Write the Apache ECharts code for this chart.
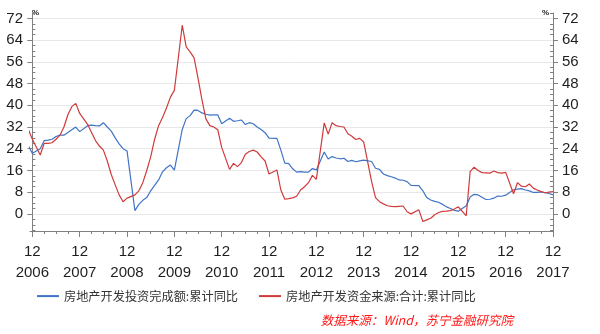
<!DOCTYPE html>
<html><head><meta charset="utf-8">
<script src="https://cdn.jsdelivr.net/npm/echarts@6/dist/echarts.min.js"></script>
<style>html,body{margin:0;padding:0;background:#fff}#c{width:600px;height:334px}</style>
</head><body><div id="c"></div>
<script>
// x position of a value = months since Dec 2006 (first value is Nov 2006 => -1)
const firstMonthOffset = -1;
const years = ['2006','2007','2008','2009','2010','2011','2012','2013','2014','2015','2016','2017'];
const seriesNames = ['房地产开发投资完成额:累计同比', '房地产开发资金来源:合计:累计同比'];
// Monthly values Nov 2006 .. Dec 2017 (January not published -> null)
const invest = [
  25, 22.3,
  null, 24, 27, 27.2, 27.5, 28.5, 29, 29, 30, 31, 32, 30.3,
  null, 32.5, 32.7, 32.5, 32.4, 33.6, 32, 30.5, 28, 25.8, 24, 23.2,
  null, 1.2, 3.5, 5, 6, 8.5, 10.5, 12.5, 15.5, 17, 18, 16.1,
  null, 31.1, 35.1, 36.2, 38.2, 38.1, 37.2, 36.7, 36.4, 36.5, 36.5, 33.2,
  null, 35.2, 34.1, 34.3, 34.6, 32.9, 33.6, 33.2, 32.0, 31.1, 29.9, 27.9,
  null, 27.8, 23.5, 18.7, 18.5, 16.6, 15.4, 15.6, 15.4, 15.4, 16.7, 16.2,
  null, 22.8, 20.2, 21.1, 20.6, 20.3, 20.5, 19.3, 19.7, 19.2, 19.5, 19.8,
  null, 19.3, 16.8, 16.4, 14.7, 14.1, 13.7, 13.2, 12.5, 12.4, 11.9, 10.5,
  null, 10.4, 8.5, 6.0, 5.1, 4.6, 4.3, 3.5, 2.6, 2.0, 1.3, 1.0,
  null, 3.0, 6.2, 7.2, 7.0, 6.1, 5.3, 5.4, 5.8, 6.6, 6.5, 6.9,
  null, 8.9, 9.1, 9.3, 8.8, 8.5, 7.9, 7.9, 8.1, 7.8, 7.5, 7.0
];
const funds = [
  31, 27.5,
  null, 21.7, 26, 26, 26.2, 27.5, 29, 32, 36.5, 39.5, 40.7, 37,
  null, 33, 30, 27, 25, 23.5, 19.5, 14.5, 10.7, 7, 4.5, 5.8,
  null, 7, 8.5, 11.5, 16, 21, 27.5, 32.5, 35.5, 39, 43, 45.5,
  null, 69.5, 61.5, 59.7, 57.5, 50, 42, 35, 32.5, 32, 31, 24.5,
  null, 16.4, 18.6, 17.4, 18.9, 22, 23, 23.5, 22.8, 21, 19.5, 14.7,
  null, 16.2, 8.8, 5.4, 5.6, 5.9, 6.5, 8.8, 10, 11.5, 14.2, 12.7,
  null, 33.5, 29.4, 33.6, 32.5, 32.2, 32, 29.5, 28.6, 27.4, 27.8, 26.5,
  null, 12, 6, 4.5, 3.7, 3, 2.8, 2.7, 2.8, 2.9, 0.8, 0,
  null, 1.5, -2.8, -2.2, -1.6, -0.3, 0.5, 0.9, 1, 1.2, 1.8, 2.6,
  null, -0.7, 15.6, 17.2, 16, 15.2, 15.1, 15, 15.8, 15.2, 15, 15.3,
  null, 7.4, 11.5, 10.2, 10, 11, 9.5, 8.8, 8.2, 7.8, 8, 8.2
];
const yTicks = [0, 8, 16, 24, 32, 40, 48, 56, 64, 72];
const yMin = -6.3, yMax = 74;

function toPoints(arr) {
  const out = [];
  arr.forEach((v, k) => { if (v !== null) out.push([k + firstMonthOffset, v]); });
  return out;
}
const yMinor = [];
for (let v = -6; v <= 74; v += 2) if (yTicks.indexOf(v) < 0) yMinor.push(v);
const xMajor = years.map((y, i) => i * 12);
const xMinor = [];
for (let m = 0; m <= 132; m += 3) xMinor.push(m);

const axisColor = '#808080';
const labelColor = '#1e1e1e';
const labelFont = 'Liberation Sans';

function yMain(pos, split) {
  return {
    type: 'value', position: pos, min: yMin, max: yMax, offset: 0,
    axisLine: { show: true, lineStyle: { color: axisColor, width: 1 } },
    axisTick: { show: true, inside: false, length: 5, customValues: yTicks, lineStyle: { color: axisColor } },
    axisLabel: { show: true, customValues: yTicks, margin: pos === 'left' ? 7 : 9, color: labelColor, fontSize: 15, fontFamily: labelFont },
    splitLine: { show: split, lineStyle: { color: '#e8e8e8', width: 1 } }
  };
}
function yMinorAxis(pos) {
  return {
    type: 'value', position: pos, min: yMin, max: yMax, offset: 0,
    axisLine: { show: false },
    axisTick: { show: true, inside: true, length: 3, customValues: yMinor, lineStyle: { color: axisColor } },
    axisLabel: { show: false },
    splitLine: { show: false }
  };
}

const chart = echarts.init(document.getElementById('c'), null, { renderer: 'canvas' });
chart.setOption({
  animation: false,
  backgroundColor: '#fff',
  grid: { left: 30, right: 47, top: 13, bottom: 103 },
  xAxis: [
    {
      type: 'value', min: -0.6, max: 132, position: 'bottom',
      axisLine: { show: true, onZero: false, lineStyle: { color: axisColor } },
      axisTick: { show: true, length: 6, customValues: xMajor, lineStyle: { color: axisColor } },
      axisLabel: {
        customValues: xMajor, margin: 10, color: labelColor, fontSize: 15, fontFamily: labelFont, lineHeight: 21,
        formatter: v => '12\n' + years[Math.round(v / 12)]
      },
      splitLine: { show: false }
    },
    {
      type: 'value', min: -0.6, max: 132, position: 'bottom', offset: 0,
      axisLine: { show: false, onZero: false },
      axisTick: { show: true, length: 3, customValues: xMinor, lineStyle: { color: axisColor } },
      axisLabel: { show: false },
      splitLine: { show: false }
    }
  ],
  yAxis: [yMain('left', true), yMinorAxis('left'), yMain('right', false), yMinorAxis('right')],
  legend: {
    left: 37, top: 290, padding: 0, itemWidth: 22, itemHeight: 2, itemGap: 21, icon: 'rect',
    textStyle: { fontSize: 12.2, color: '#333', fontFamily: 'Noto Sans CJK SC' },
    data: seriesNames
  },
  graphic: [
    { type: 'text', left: 32, top: 9, style: { text: '%', fill: '#222', font: 'bold 8px "Liberation Sans"' } },
    { type: 'text', left: 542, top: 9, style: { text: '%', fill: '#222', font: 'bold 8px "Liberation Sans"' } },
    { type: 'text', right: 87, top: 314, style: { text: '数据来源：Wind，苏宁金融研究院', fill: '#ff1a1a', font: 'italic 12.5px "Noto Sans CJK SC"' } }
  ],
  series: [
    {
      name: seriesNames[0], type: 'line', xAxisIndex: 0, yAxisIndex: 0,
      data: toPoints(invest), showSymbol: false, symbol: 'none',
      lineStyle: { color: '#3f74c6', width: 1.2 }, itemStyle: { color: '#3f74c6' }
    },
    {
      name: seriesNames[1], type: 'line', xAxisIndex: 0, yAxisIndex: 0,
      data: toPoints(funds), showSymbol: false, symbol: 'none',
      lineStyle: { color: '#cf3b3b', width: 1.2 }, itemStyle: { color: '#cf3b3b' }
    }
  ]
});
</script></body></html>
